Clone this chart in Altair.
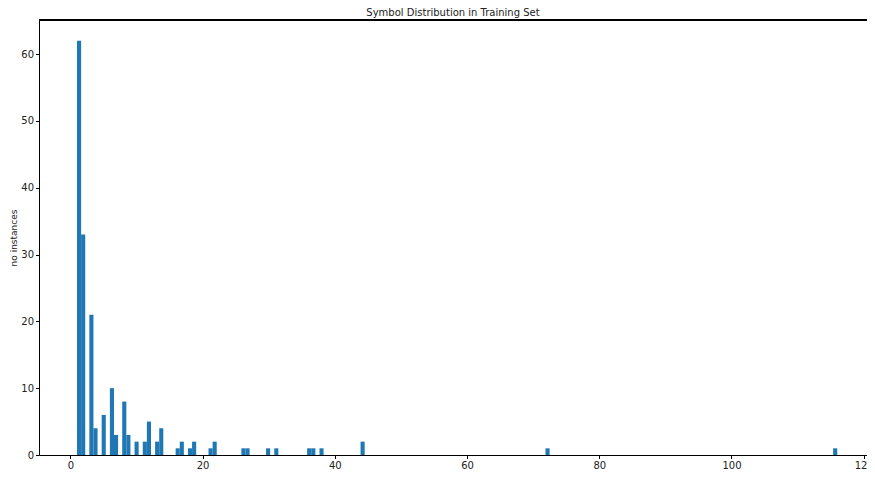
import numpy as np
import pandas as pd
import altair as alt

# distinct symbol-count values and how many symbols have each count
values = [1, 2, 3, 4, 5, 6, 7, 8, 9, 10, 11, 12, 13, 14, 16, 17, 18, 19,
          21, 22, 26, 27, 30, 31, 36, 37, 38, 44, 72, 116]
frequency = [62, 33, 21, 4, 6, 10, 3, 8, 3, 2, 2, 5, 2, 4, 1, 2, 1, 2,
             1, 2, 1, 1, 1, 1, 1, 1, 1, 2, 1, 1]
x_ticks = [0, 20, 40, 60, 80, 100, 120]
y_ticks = [0, 10, 20, 30, 40, 50, 60]

raw = np.repeat(values, frequency)
hist, edges = np.histogram(raw, bins=len(raw))
df = pd.DataFrame({"left": edges[:-1], "right": edges[1:], "count": hist})
df = df[df["count"] > 0]

W, H = 828, 435
font = "DejaVu Sans"

bars = alt.Chart(df).mark_bar(color="#1f77b4", clip=True).encode(
    x=alt.X("left:Q",
            scale=alt.Scale(domain=[-4.75, 120.5], nice=False, zero=False),
            axis=alt.Axis(values=x_ticks, title=None, grid=False,
                          domainColor="black", tickColor="black", tickSize=3.5,
                          labelPadding=1.5, labelFont=font, labelFontSize=10,
                          labelColor="#222", labelFlush=False, labelOverlap=False)),
    x2="right:Q",
    y=alt.Y("count:Q",
            scale=alt.Scale(domain=[0, 65.1], nice=False),
            axis=alt.Axis(values=y_ticks, title="no instances", grid=False,
                          domainColor="black", tickColor="black", tickSize=3.5,
                          labelPadding=2, labelFont=font, labelFontSize=10,
                          labelColor="#222", titleFont=font, titleFontSize=9,
                          titleFontWeight="normal", titleColor="#222",
                          titlePadding=2)),
    y2=alt.datum(0),
)

top = alt.Chart(df).mark_rule(color="black", strokeWidth=1).encode(
    y=alt.value(0)
)

chart = alt.layer(bars, top).properties(
    width=W, height=H,
    title=alt.TitleParams("Symbol Distribution in Training Set", font=font,
                          fontSize=10, fontWeight="normal", color="#222",
                          offset=2),
    autosize=alt.AutoSizeParams(type="none"),
    padding={"left": 31, "top": 12, "right": 0, "bottom": 17},
).configure_view(stroke=None)

chart.save("out.html", embed_options={"renderer": "svg", "actions": False})
